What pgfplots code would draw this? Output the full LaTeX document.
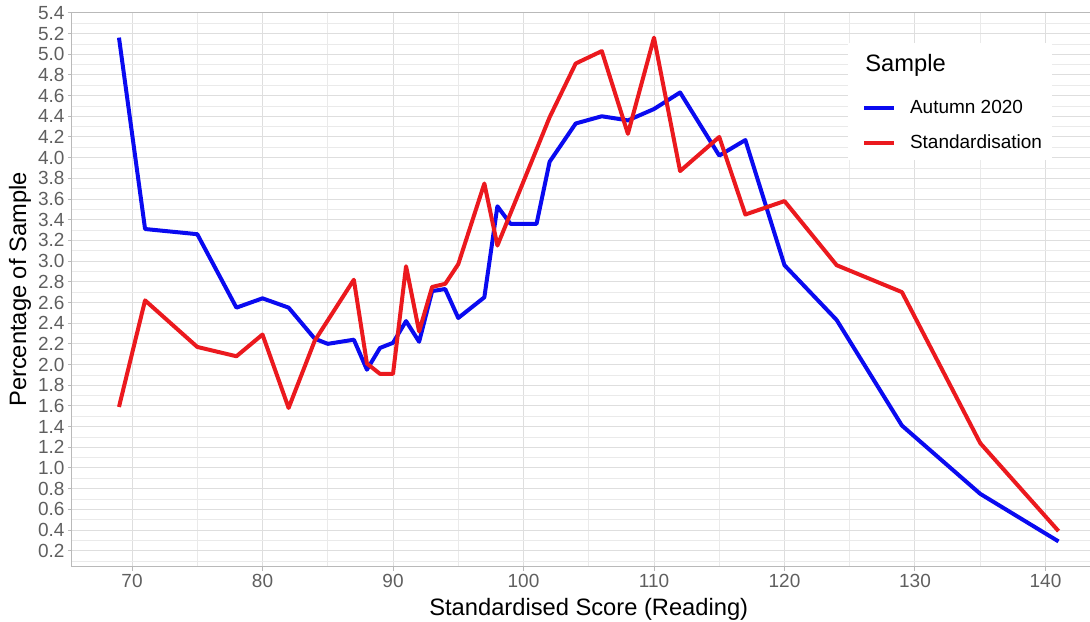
\documentclass[border=0pt]{standalone}
\usepackage{pgfplots}
\pgfplotsset{compat=1.18}
\usepackage{fontspec}
\setmainfont{Liberation Sans}
\usetikzlibrary{calc}

\definecolor{autumn}{RGB}{10,10,240}
\definecolor{stand}{RGB}{235,25,30}
\definecolor{gridmaj}{RGB}{222,222,222}
\definecolor{gridmin}{RGB}{234,234,234}
\definecolor{ticktext}{RGB}{95,95,95}
\definecolor{frame}{RGB}{185,185,185}

\begin{document}
\begin{tikzpicture}
\begin{axis}[
    scale only axis,
    width=1033.5pt, height=554.3pt,
    xmin=65.4, xmax=144.6,
    ymin=0.046, ymax=5.404,
    xtick={70,80,...,140},
    minor x tick num=1,
    ytick distance=0.2,
    minor y tick num=1,
    grid=both,
    major grid style={gridmaj, line width=1pt},
    minor grid style={gridmin, line width=0.6pt},
    axis line style={frame, line width=1pt},
    tick style={frame, line width=1pt},
    tick align=outside, tick pos=left,
    major tick length=4pt, minor tick length=0pt,
    /pgf/number format/assume math mode=true,
    ticklabel style={font=\fontsize{19}{22}\selectfont, text=ticktext},
    yticklabel style={/pgf/number format/.cd, fixed, fixed zerofill, precision=1},
    xticklabel style={/pgf/number format/.cd, fixed, precision=0},
    xlabel={Standardised Score (Reading)},
    ylabel={Percentage of Sample},
    label style={font=\fontsize{23.7}{27}\selectfont},
    xlabel style={at={(rel axis cs:0.5,-0.0889)}, anchor=base},
    ylabel style={at={(rel axis cs:-0.0445,0.5)}, anchor=base},
    legend cell align=left,
    legend image code/.code={\draw[#1, line width=4pt] (0pt,0pt) -- (30pt,0pt);},
    legend style={at={(rel axis cs:0.7642,0.8454)}, anchor=north west,
        draw=none, fill=none, inner sep=0pt,
        row sep=16pt,
        font=\fontsize{19}{22}\selectfont,
        /tikz/every odd column/.append style={column sep=12pt}},
]
\fill[white] (rel axis cs:0.7508,0.9448) rectangle (rel axis cs:0.9482,0.7337);
\node[anchor=base west, font=\fontsize{23.7}{27}\selectfont] at (rel axis cs:0.7642,0.8930) {Sample};

\addplot[autumn, line width=4pt, line join=round] coordinates {
    (69,5.16) (71,3.31) (75,3.26) (78,2.55) (80,2.64) (82,2.55)
    (84,2.25) (85,2.20) (87,2.24) (88,1.95) (89,2.16) (90,2.21)
    (91,2.42) (92,2.22) (93,2.71) (94,2.73) (95,2.45) (97,2.65)
    (98,3.53) (99,3.36) (101,3.36) (102,3.96) (104,4.33) (106,4.40)
    (108,4.36) (110,4.47) (112,4.63) (115,4.02) (117,4.17) (120,2.96)
    (124,2.43) (129,1.41) (135,0.75) (141,0.29)
};
\addlegendentry{Autumn 2020}

\addplot[stand, line width=4pt, line join=round] coordinates {
    (69,1.59) (71,2.62) (75,2.17) (78,2.08) (80,2.29) (82,1.58)
    (84,2.23) (87,2.82) (88,2.01) (89,1.91) (90,1.91) (91,2.95)
    (92,2.32) (93,2.75) (94,2.78) (95,2.97) (97,3.75) (98,3.15)
    (102,4.39) (104,4.91) (106,5.03) (108,4.23) (110,5.16) (112,3.87)
    (115,4.20) (117,3.45) (120,3.58) (124,2.96) (129,2.70) (135,1.24)
    (141,0.39)
};
\addlegendentry{Standardisation}
\end{axis}
\pgfresetboundingbox
\path[use as bounding box] ($(current axis.south west)+(-72pt,-55.3pt)$) rectangle ($(current axis.north east)+(-15.5pt,12.4pt)$);
\end{tikzpicture}
\end{document}
